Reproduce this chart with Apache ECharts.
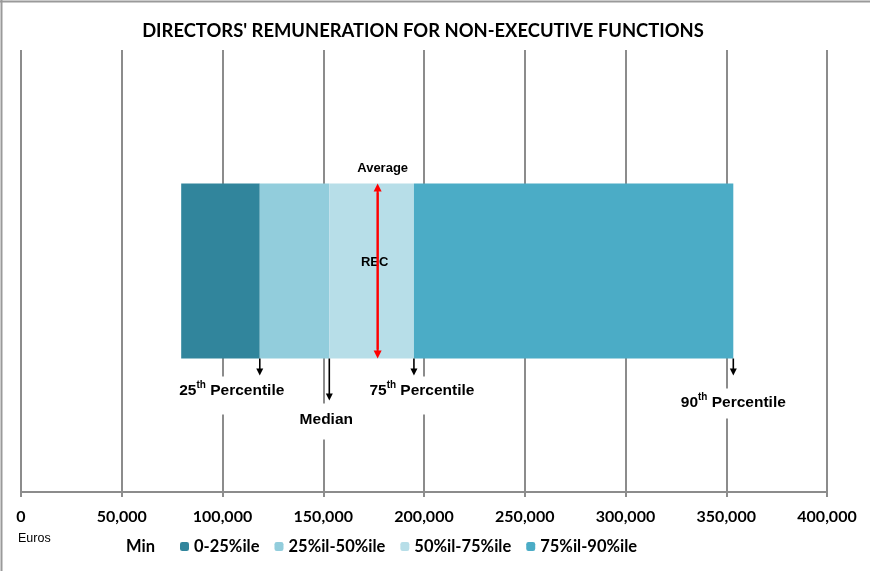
<!DOCTYPE html>
<html>
<head>
<meta charset="utf-8">
<title>Directors' remuneration</title>
<script src="https://cdn.jsdelivr.net/npm/echarts@6/dist/echarts.min.js"></script>
<style>
  html, body { margin: 0; padding: 0; background: #fff; }
  #main { width: 870px; height: 571px; }
</style>
</head>
<body>
<div id="main"></div>
<script>
// data
var categories = ['REC'];
var seriesNames = ['Min', '0-25%ile', '25%il-50%ile', '50%il-75%ile', '75%il-90%ile'];
var minValues = [79500];       // empty part up to the minimum
var q0to25Values = [39000];    // min -> 25th percentile
var q25to50Values = [34500];   // 25th -> median
var q50to75Values = [42000];   // median -> 75th
var q75to90Values = [158500];  // 75th -> 90th
var averageValues = [177000];
var xTicks = [0, 50000, 100000, 150000, 200000, 250000, 300000, 350000, 400000];

var colors = ['rgba(0,0,0,0)', '#31859C', '#92CDDC', '#B7DEE8', '#4BACC6'];
var calibriLike = 'Lato, "Open Sans", sans-serif';
var arialLike = '"Liberation Sans", Arial, sans-serif';
var gridColor = '#8c8c8c';

var chart = echarts.init(document.getElementById('main'));

function thousands(v) {
  return String(v).replace(/\B(?=(\d{3})+(?!\d))/g, ',');
}

function barSeries(i, data) {
  return {
    name: seriesNames[i],
    type: 'bar',
    stack: 'rem',
    barWidth: 175,
    data: data,
    itemStyle: { color: colors[i] },
    emphasis: { disabled: true },
    silent: true
  };
}

var legendText = { fontFamily: calibriLike, fontWeight: 'bold', fontSize: 16.5, color: '#000' };

var option = {
  animation: false,
  title: {
    text: "DIRECTORS' REMUNERATION FOR NON-EXECUTIVE FUNCTIONS",
    left: 418,
    top: 17,
    textAlign: 'center',
    textStyle: { fontFamily: calibriLike, fontWeight: 'bold', fontSize: 18.4, color: '#000' }
  },
  legend: [{
    data: ['Min'],
    left: 107,
    top: 533,
    itemWidth: 9,
    itemHeight: 9,
    itemGap: 15,
    textStyle: legendText,
    selectedMode: false
  }, {
    data: seriesNames.slice(1),
    left: 175,
    top: 533,
    itemWidth: 9,
    itemHeight: 9,
    itemGap: 15,
    textStyle: legendText,
    selectedMode: false
  }],
  grid: { left: 21, right: 43, top: 50, bottom: 79, containLabel: false },
  xAxis: {
    type: 'value',
    min: xTicks[0],
    max: xTicks[xTicks.length - 1],
    interval: xTicks[1] - xTicks[0],
    axisLine: { show: true, lineStyle: { color: gridColor, width: 2 } },
    axisTick: { show: true, length: 5, lineStyle: { color: gridColor, width: 2 } },
    splitLine: { show: true, lineStyle: { color: gridColor, width: 2 } },
    axisLabel: {
      margin: 17,
      fontFamily: calibriLike,
      fontWeight: 'bold',
      fontSize: 16,
      color: '#000',
      formatter: thousands
    }
  },
  yAxis: {
    type: 'category',
    data: categories,
    show: false
  },
  series: [
    barSeries(0, minValues),
    barSeries(1, q0to25Values),
    barSeries(2, q25to50Values),
    barSeries(3, q50to75Values),
    barSeries(4, q75to90Values)
  ]
};
chart.setOption(option);

// annotations placed through the axes
var p25 = minValues[0] + q0to25Values[0];
var p50 = p25 + q25to50Values[0];
var p75 = p50 + q50to75Values[0];
var p90 = p75 + q75to90Values[0];

function px(v) {
  return chart.convertToPixel({ xAxisIndex: 0, yAxisIndex: 0 }, [v, categories[0]]);
}
var center = px(0);
var barTop = center[1] - 175 / 2;
var barBottom = center[1] + 175 / 2;

function arrowParts(x, y1, y2, color, head, width, dir) {
  // dir 1 = points down, -1 = points up
  return [
    { type: 'line', z: 100, shape: { x1: x, y1: y1, x2: x, y2: y2 - dir * (head - 1) }, style: { stroke: color, lineWidth: width } },
    { type: 'polygon', z: 100, shape: { points: [[x - head / 2, y2 - dir * head], [x + head / 2, y2 - dir * head], [x, y2]] }, style: { fill: color } }
  ];
}

function label(x, y, parts, pad, size) {
  return {
    type: 'text',
    z: 90,
    x: x,
    y: y,
    style: {
      text: parts,
      align: 'center',
      verticalAlign: 'middle',
      backgroundColor: '#fff',
      padding: pad,
      rich: {
        b: { fontFamily: arialLike, fontWeight: 'bold', fontSize: size, color: '#000', lineHeight: 18, verticalAlign: 'bottom' },
        s: { fontFamily: arialLike, fontWeight: 'bold', fontSize: 10, color: '#000', lineHeight: 18, verticalAlign: 'top' }
      }
    }
  };
}

var ax = px(averageValues[0])[0];
var graphics = [
  // chart frame
  { type: 'line', shape: { x1: 0, y1: 1.5, x2: 870, y2: 1.5 }, style: { stroke: '#9a9a9a', lineWidth: 2 } },
  { type: 'line', shape: { x1: 1.5, y1: 0, x2: 1.5, y2: 571 }, style: { stroke: '#9a9a9a', lineWidth: 2 } },
  // labels with white boxes
  label(px(p25)[0] - 28, barBottom + 37, '{b|25}{s|th}{b| Percentile}', [4, 5, 16, 5], 15.5),
  label(px(p50)[0] - 3, barBottom + 63, '{b|Median}', [6, 5, 12, 5], 15.5),
  label(px(p75)[0] + 8, barBottom + 37, '{b|75}{s|th}{b| Percentile}', [4, 5, 16, 5], 15.5),
  label(px(p90)[0], barBottom + 45, '{b|90}{s|th}{b| Percentile}', [4, 5, 8, 5], 15.5),
  label(ax + 5, barTop - 18, '{b|Average}', [6, 4, 6, 4], 13),
  {
    type: 'text', z: 95, x: ax - 3, y: center[1] - 9,
    style: { text: categories[0], align: 'center', verticalAlign: 'middle', fontFamily: arialLike, fontWeight: 'bold', fontSize: 13, fill: '#000' }
  }
];
// percentile arrows
graphics = graphics.concat(
  arrowParts(px(p25)[0], barBottom, barBottom + 17, '#000', 7, 1.6, 1),
  arrowParts(px(p50)[0], barBottom, barBottom + 42, '#000', 7, 1.6, 1),
  arrowParts(px(p75)[0], barBottom, barBottom + 17, '#000', 7, 1.6, 1),
  arrowParts(px(p90)[0], barBottom, barBottom + 17, '#000', 7, 1.6, 1),
  // average double arrow
  arrowParts(ax, barTop + 9, barBottom, '#ff0000', 8, 2, 1),
  arrowParts(ax, barBottom - 9, barTop, '#ff0000', 8, 2, -1)
);
// unit note
graphics.push({
  type: 'text', x: 18, y: 539,
  style: { text: 'Euros', verticalAlign: 'middle', fontFamily: arialLike, fontSize: 12.5, fill: '#000' }
});
chart.setOption({ graphic: graphics });
</script>
</body>
</html>
